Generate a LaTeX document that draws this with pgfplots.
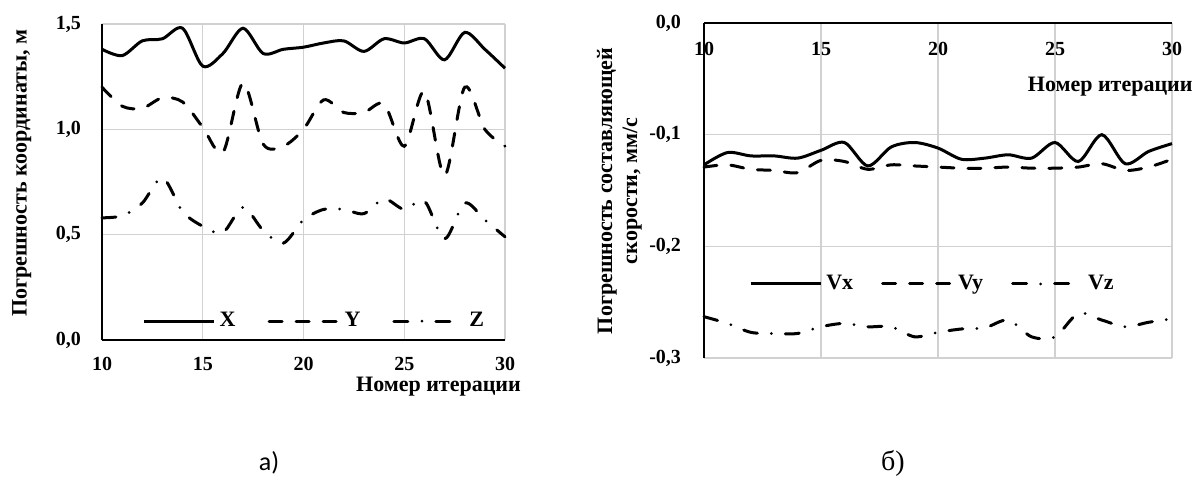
\documentclass[border=0pt]{standalone}
\usepackage{fontspec}
\setmainfont{Liberation Serif}
\newfontfamily\calibri{Carlito}
\usepackage{pgfplots}
\usepackage{pgfplotstable}
\pgfplotsset{compat=1.18}

\pgfplotstableread{
x X Y Z
10 1.38 1.20 0.58
11 1.35 1.11 0.59
12 1.42 1.10 0.65
13 1.43 1.15 0.77
14 1.48 1.13 0.61
15 1.30 1.01 0.54
16 1.36 0.89 0.51
17 1.48 1.22 0.63
18 1.36 0.93 0.52
19 1.38 0.92 0.46
20 1.39 1.00 0.57
21 1.41 1.14 0.62
22 1.42 1.08 0.62
23 1.37 1.08 0.60
24 1.43 1.12 0.67
25 1.41 0.92 0.62
26 1.43 1.18 0.66
27 1.33 0.78 0.48
28 1.46 1.20 0.65
29 1.38 1.00 0.57
30 1.29 0.92 0.49
}\tabA

\pgfplotstableread{
x Vx Vy Vz
10 -0.127 -0.129 -0.263
11 -0.116 -0.127 -0.269
12 -0.119 -0.131 -0.277
13 -0.119 -0.132 -0.278
14 -0.121 -0.134 -0.278
15 -0.114 -0.123 -0.272
16 -0.107 -0.124 -0.269
17 -0.128 -0.131 -0.272
18 -0.111 -0.127 -0.272
19 -0.107 -0.128 -0.281
20 -0.112 -0.129 -0.277
21 -0.122 -0.130 -0.274
22 -0.121 -0.130 -0.273
23 -0.118 -0.129 -0.266
24 -0.121 -0.130 -0.281
25 -0.107 -0.130 -0.281
26 -0.124 -0.129 -0.260
27 -0.100 -0.126 -0.266
28 -0.126 -0.132 -0.272
29 -0.115 -0.129 -0.268
30 -0.108 -0.122 -0.265
}\tabB

\pgfplotsset{
  common/.style={
    scale only axis,
    anchor=south west,
    grid=major,
    major grid style={line width=0.6pt, color=black!18},
    major tick length=0pt,
    tick label style={font=\fontsize{10}{12}\selectfont\bfseries},
    legend style={draw=none, fill=none, inner sep=0pt,
      font=\fontsize{11}{12}\selectfont\bfseries},
    legend columns=3,
    legend image code/.code={\draw[##1] (0pt,0pt) -- (35pt,0pt);},
    xmin=10, xmax=30,
    xtick={10,15,20,25,30},
    xticklabels={10,15,20,25,30},
    clip=false,
  },
  lines/.style={
    axis line style={-, line width=1.2pt, black},
    every inner x axis line/.append style={-},
    every outer x axis line/.append style={-},
    every inner y axis line/.append style={-},
    every outer y axis line/.append style={-},
  },
  sA/.style={black, line width=1.5pt, smooth},
  sB/.style={black, line width=1.5pt, smooth, line cap=round, dash pattern=on 6.5pt off 7pt},
  sC/.style={black, line width=1.5pt, smooth, line cap=round, dash pattern=on 7pt off 7pt on 0pt off 7pt},
}

\begin{document}
\begin{tikzpicture}
\useasboundingbox (0pt,0pt) rectangle (596pt,-239.5pt);

\begin{axis}[common,
  at={(51pt,-170pt)},
  width=201.5pt, height=158pt,
  axis x line=bottom, axis y line=left, lines,
  ymin=0, ymax=1.5,
  ytick={0,0.5,1,1.5},
  yticklabels={{0,0},{0,5},{1,0},{1,5}},
  yticklabel style={xshift=-7pt},
  xticklabel style={yshift=-5pt},
  xlabel={Номер итерации},
  xlabel style={at={(axis description cs:0.835,-0.149)}, anchor=center,
    font=\fontsize{11}{12.5}\selectfont\bfseries},
  ylabel={Погрешность координаты, м},
  ylabel style={at={(axis description cs:-0.199,0.528)}, anchor=center, rotate=0,
    font=\fontsize{11}{12.5}\selectfont\bfseries},
  legend style={at={(axis description cs:0.10,0.06)}, anchor=west},
  legend cell align=left,
  /tikz/every even column/.append style={column sep=14pt},
]
\addplot[sA] table[x=x, y=X] {\tabA};
\addlegendentry{X}
\addplot[sB] table[x=x, y=Y] {\tabA};
\addlegendentry{Y}
\addplot[sC] table[x=x, y=Z] {\tabA};
\addlegendentry{Z}
\end{axis}

\begin{axis}[common,
  at={(352pt,-179pt)},
  width=234pt, height=167.5pt,
  axis x line=middle, axis y line=left, lines,
  hide obscured x ticks=false, hide obscured y ticks=false,
  ymin=-0.3, ymax=0,
  ytick={-0.3,-0.2,-0.1,0},
  yticklabels={{-0,3},{-0,2},{-0,1},{0,0}},
  yticklabel style={xshift=-8pt},
  xticklabel style={anchor=north, yshift=-6pt},
  xlabel={Номер итерации},
  xlabel style={at={(axis description cs:0.868,0.809)}, anchor=center,
    font=\fontsize{11}{12.5}\selectfont\bfseries},
  ylabel={Погрешность составляющей\\скорости, мм/с},
  ylabel style={at={(axis description cs:-0.181,0.499)}, anchor=center, align=center, rotate=0,
    font=\fontsize{11}{12.5}\selectfont\bfseries},
  legend style={at={(axis description cs:0.096,0.221)}, anchor=west},
  legend cell align=left,
  /tikz/every even column/.append style={column sep=12pt},
]
\addplot[sA] table[x=x, y=Vx] {\tabB};
\addlegendentry{Vx}
\addplot[sB] table[x=x, y=Vy] {\tabB};
\addlegendentry{Vy}
\addplot[sC] table[x=x, y=Vz] {\tabB};
\addlegendentry{Vz}
\end{axis}

\node[font=\calibri\fontsize{13}{14}\selectfont] at (134.5pt,-231.5pt) {а)};
\node[font=\fontsize{14}{15}\selectfont] at (446.5pt,-231.5pt) {б)};
\end{tikzpicture}
\end{document}
